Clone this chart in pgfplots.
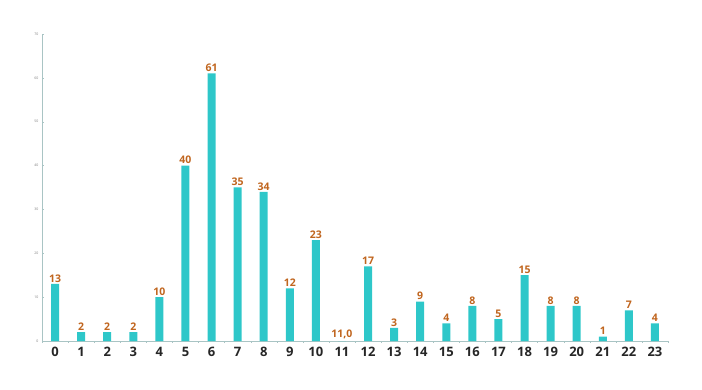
\documentclass[border=0pt]{standalone}
\usepackage{pgfplots}
\pgfplotsset{compat=1.18}
\usepackage{pgfplotstable}
\usepackage{fontspec}
\setmainfont{Open Sans}
\definecolor{barc}{HTML}{2EC7C9}
\definecolor{labc}{HTML}{C0651E}
\definecolor{axc}{HTML}{A9C4C4}
\pgfplotstableread{
x y lab
0 13 13
1 2 2
2 2 2
3 2 2
4 10 10
5 40 40
6 61 61
7 35 35
8 34 34
9 12 12
10 23 23
11 0 11,0
12 17 17
13 3 3
14 9 9
15 4 4
16 8 8
17 5 5
18 15 15
19 8 8
20 8 8
21 1 1
22 7 7
23 4 4
}\datatable
\begin{document}
\begin{tikzpicture}
\useasboundingbox (0,0) rectangle (702bp,390bp);
\begin{axis}[
  at={(42bp,49bp)}, anchor=south west,
  scale only axis, width=626bp, height=307bp,
  /pgf/number format/assume math mode=true,
  xmin=-0.5, xmax=23.5, ymin=0, ymax=70,
  axis x line*=bottom, axis y line*=left,
  axis line style={axc, line width=0.8pt},
  xtick={0,...,23}, major x tick style={draw=none},
  minor xtick={-0.5,0.5,...,23.5},
  minor x tick style={axc},
  minor tick length=2bp,
  xticklabel style={font=\fontsize{13bp}{15bp}\selectfont\bfseries, text=black!85, yshift=-1bp},
  ytick={0,10,...,70},
  yticklabel style={font=\fontsize{3.5bp}{4bp}\selectfont, text=gray},
  y tick style={axc}, major tick length=2bp,
  ybar, bar width=8bp,
  nodes near coords,
  point meta=explicit symbolic,
  every node near coord/.append style={font=\fontsize{10.5bp}{12bp}\selectfont\bfseries, text=labc, inner sep=1.5bp},
  clip=false,
]
\addplot[fill=barc, draw=none] table[x=x, y=y, meta=lab] {\datatable};
\end{axis}
\end{tikzpicture}
\end{document}
